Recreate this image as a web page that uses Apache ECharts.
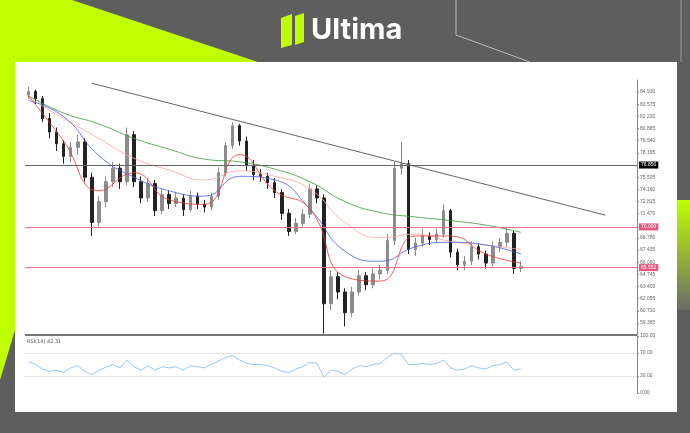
<!DOCTYPE html>
<html>
<head>
<meta charset="utf-8" />
<title>Ultima chart</title>
<script src="https://cdn.jsdelivr.net/npm/echarts@6/dist/echarts.min.js"></script>
<style>
    html, body { margin: 0; padding: 0; background: #5e5e5e; }
    #chart { width: 690px; height: 433px; }
</style>
</head>
<body>
<div id="chart"></div>
<script>
    // candles: [open, close, low, high]
    var candles = [
        [84.6, 85.0, 84.2, 85.5], [85.0, 84.2, 83.6, 85.2], [84.2, 82.0, 81.6, 84.5], [82.0, 80.5, 79.8, 82.6],
        [80.5, 79.2, 78.4, 81.0], [79.2, 77.8, 77.0, 79.6], [77.8, 78.8, 77.2, 79.4], [78.8, 79.4, 78.0, 80.2],
        [79.4, 75.5, 75.0, 79.8], [75.5, 70.5, 69.0, 76.0], [70.5, 72.8, 70.0, 73.4], [72.8, 75.0, 72.2, 75.6],
        [75.0, 76.5, 74.4, 77.2], [76.5, 75.0, 74.2, 77.0], [75.0, 80.2, 74.6, 81.0], [80.2, 75.0, 74.4, 80.6],
        [75.0, 73.2, 72.6, 75.6], [73.2, 74.8, 72.8, 75.4], [74.8, 71.8, 71.2, 75.2], [71.8, 73.6, 71.4, 74.2],
        [73.6, 72.6, 72.0, 74.0], [72.6, 73.2, 72.2, 73.8], [73.2, 71.9, 71.2, 73.6], [71.9, 73.4, 71.6, 74.0],
        [73.4, 72.5, 72.0, 73.8], [72.5, 72.2, 71.6, 73.0], [72.2, 73.4, 71.8, 73.8], [73.4, 76.0, 73.0, 76.6],
        [76.0, 79.0, 75.6, 79.4], [79.0, 81.2, 78.6, 81.6], [81.2, 79.5, 79.0, 81.4], [79.5, 76.8, 76.2, 80.0],
        [76.8, 75.8, 75.2, 77.4], [75.8, 75.6, 75.0, 76.4], [75.6, 74.9, 74.2, 76.0], [74.9, 73.8, 73.2, 75.4],
        [73.8, 71.5, 70.8, 74.2], [71.5, 69.5, 69.0, 72.0], [69.5, 70.4, 69.2, 71.0], [70.4, 71.4, 70.0, 72.0],
        [71.4, 74.2, 71.0, 74.8], [74.2, 73.2, 72.6, 74.6], [73.2, 61.5, 58.2, 73.6], [61.5, 64.5, 60.8, 65.2],
        [64.5, 62.8, 62.0, 65.0], [62.8, 60.5, 59.0, 63.2], [60.5, 62.8, 60.0, 63.4], [62.8, 64.6, 62.4, 65.2],
        [64.6, 63.6, 63.0, 65.0], [63.6, 64.8, 63.2, 65.4], [64.8, 65.2, 64.2, 65.8], [65.2, 68.5, 64.8, 69.2],
        [68.5, 76.5, 68.0, 77.2], [76.5, 77.0, 75.8, 79.4], [77.0, 67.5, 67.0, 77.4], [67.5, 68.2, 66.8, 68.8],
        [68.2, 69.0, 67.8, 69.8], [69.0, 68.6, 68.0, 69.4], [68.6, 69.2, 68.2, 69.8], [69.2, 71.8, 68.8, 72.5],
        [71.8, 67.2, 66.6, 72.0], [67.2, 65.8, 65.2, 67.6], [65.8, 66.2, 65.2, 66.8], [66.2, 67.8, 65.8, 68.4],
        [67.8, 67.0, 66.4, 68.2], [67.0, 66.0, 65.4, 67.4], [66.0, 67.8, 65.6, 68.4], [67.8, 68.3, 67.2, 68.8],
        [68.3, 69.3, 67.8, 70.0], [69.3, 65.4, 64.8, 69.6], [65.4, 65.6, 65.0, 66.2]
    ];
    // moving averages, read every 5 candles
    var maRed   = [84.5, 79.5, 74.0, 76.0, 73.0, 72.5, 78.0, 74.0, 72.0, 64.5, 64.0, 69.0, 69.0, 67.0, 66.0];
    var maBlue  = [84.0, 82.2, 77.9, 75.5, 74.0, 73.4, 75.6, 75.2, 72.0, 67.3, 66.2, 67.8, 68.3, 68.0, 67.0];
    var maPink  = [84.3, 82.0, 79.8, 77.6, 76.3, 75.2, 76.2, 75.6, 74.2, 70.5, 68.8, 69.2, 68.4, 68.0, 67.5];
    var maGreen = [84.5, 82.6, 81.4, 79.8, 78.6, 77.5, 77.2, 76.4, 75.0, 72.8, 71.6, 71.1, 70.7, 70.2, 69.4];
    var rsi = [55, 50, 42, 38, 40, 36, 44, 48, 38, 32, 40, 45, 50, 44, 58, 46, 40, 48, 40, 46, 44, 46, 40, 48,
        46, 44, 50, 56, 62, 66, 58, 52, 50, 50, 48, 44, 38, 36, 42, 46, 54, 52, 28, 40, 38, 32, 42, 48, 46, 50,
        52, 62, 70, 68, 50, 50, 52, 50, 52, 58, 44, 40, 42, 48, 44, 42, 48, 50, 54, 40, 42];
    var priceTicks = [59.365, 60.710, 62.055, 63.400, 64.745, 66.090, 67.435, 68.780, 71.470, 72.815,
        74.160, 75.505, 78.195, 79.540, 80.885, 82.230, 83.575, 84.930];
    var blackLevel = 76.85;
    var redLevels = [70.0, 65.5];
    var redLabels = ['70.000', '65.552'];
    var trend = [[9, 85.9], [82, 71.3]];
    var rsiTicks = [0, 30, 70, 100];
    var rsiLabels = ['0.00', '30.00', '70.00', '100.00'];

    var total = 87;
    var cats = [];
    for (var i = 0; i < total; i++) cats.push(i);

    function sparse(arr) {
        var out = [];
        for (var i = 0; i < candles.length; i++) out.push(i % 5 == 0 ? arr[i / 5] : null);
        return out;
    }
    function maLine(arr, color) {
        return { type: 'line', data: sparse(arr), connectNulls: true, smooth: true, symbol: 'none',
            lineStyle: { color: color, width: 0.8 }, silent: true };
    }
    var tag = { show: true, position: 'end', color: '#fff', fontSize: 5, padding: [1, 2], distance: 2 };

    var pinkSeries = maLine(maPink, '#f4a8a0');
    pinkSeries.markLine = { symbol: 'none', silent: true,
        lineStyle: { color: '#f0708e', width: 1, type: 'solid' },
        label: Object.assign({}, tag, { backgroundColor: '#e8557a', formatter: function (p) { return redLabels[p.dataIndex]; } }),
        data: redLevels.map(function (v) { return { yAxis: v }; }) };

    var chart = echarts.init(document.getElementById('chart'));
    chart.setOption({
        animation: false,
        backgroundColor: '#5e5e5e',
        graphic: [
            { type: 'polygon', shape: { points: [[0, 0], [72, 0], [258, 62], [15, 62], [15, 330], [0, 380]] }, style: { fill: '#bfff00' } },
            { type: 'rect', shape: { x: 677, y: 200, width: 13, height: 110 },
                style: { fill: new echarts.graphic.LinearGradient(0, 0, 0, 1, [{ offset: 0, color: '#bfff00' }, { offset: 1, color: '#6a6a6a' }]) } },
            { type: 'polyline', shape: { points: [[456, 0], [456, 35], [530, 62]] }, style: { stroke: '#bbb', lineWidth: 1, fill: null } },
            { type: 'line', shape: { x1: 681, y1: 0, x2: 681, y2: 62 }, style: { stroke: '#999', lineWidth: 1 } },
            { type: 'polygon', shape: { points: [[281, 18], [292, 14], [292, 45], [281, 48]] }, style: { fill: '#bfff00' } },
            { type: 'polygon', shape: { points: [[295, 16], [304, 13], [304, 42], [295, 45]] }, style: { fill: '#bfff00' } },
            { type: 'text', x: 311, y: 16, style: { text: 'Ultima', fill: '#fff', font: 'bold 29px Inter' } },
            { type: 'rect', z: -1, shape: { x: 15, y: 62, width: 662, height: 350 }, style: { fill: '#fff' } },
            { type: 'line', shape: { x1: 25, y1: 335, x2: 637, y2: 335 }, style: { stroke: '#777', lineWidth: 2 } },
            { type: 'text', x: 27, y: 339, style: { text: 'RSI(14) 42.31', fill: '#555', font: '5px DejaVu Sans' } }
        ],
        grid: [
            { left: 25, top: 80, width: 612, height: 255 },
            { left: 25, top: 336, width: 612, height: 57 }
        ],
        xAxis: [
            { type: 'category', data: cats, gridIndex: 0, axisLine: { show: false }, axisTick: { show: false }, axisLabel: { show: false } },
            { type: 'category', data: cats, gridIndex: 1, axisLine: { show: false }, axisTick: { show: false }, axisLabel: { show: false } }
        ],
        yAxis: [
            { type: 'value', gridIndex: 0, position: 'right', min: 58.04, max: 86.26, splitLine: { show: false },
                axisLine: { show: true, lineStyle: { color: '#888' } },
                axisTick: { show: true, customValues: priceTicks, length: 2, lineStyle: { color: '#888' } },
                axisLabel: { customValues: priceTicks, fontSize: 5, color: '#666', margin: 3,
                    formatter: function (v) { return v.toFixed(3); } } },
            { type: 'value', gridIndex: 1, position: 'right', min: 0, max: 100, splitLine: { show: false },
                axisLine: { show: true, lineStyle: { color: '#888' } },
                axisTick: { show: true, customValues: rsiTicks, length: 2 },
                axisLabel: { customValues: rsiTicks, fontSize: 5, color: '#666', margin: 3,
                    formatter: function (v) { return rsiLabels[rsiTicks.indexOf(v)]; } } }
        ],
        series: [
            maLine(maGreen, '#3a9a3a'),
            pinkSeries,
            maLine(maBlue, '#4a5ee8'),
            maLine(maRed, '#e83a3a'),
            { type: 'candlestick', data: candles, barWidth: 3,
                itemStyle: { color: '#8c8c8c', color0: '#222', borderColor: '#8c8c8c', borderColor0: '#222', borderWidth: 1 },
                markLine: { symbol: 'none', silent: true, lineStyle: { color: '#666', width: 1, type: 'solid' },
                    data: [
                        { yAxis: blackLevel, label: Object.assign({}, tag, { backgroundColor: '#000', formatter: '76.850' }) },
                        [{ coord: trend[0], label: { show: false } }, { coord: trend[1] }]
                    ] } },
            { type: 'line', xAxisIndex: 1, yAxisIndex: 1, data: rsi, symbol: 'none',
                lineStyle: { color: '#7fb8f0', width: 0.8 },
                markLine: { symbol: 'none', silent: true, label: { show: false },
                    lineStyle: { color: '#bbb', type: 'dotted', width: 0.8 }, data: [{ yAxis: 30 }, { yAxis: 70 }] } }
        ]
    });
</script>
</body>
</html>
